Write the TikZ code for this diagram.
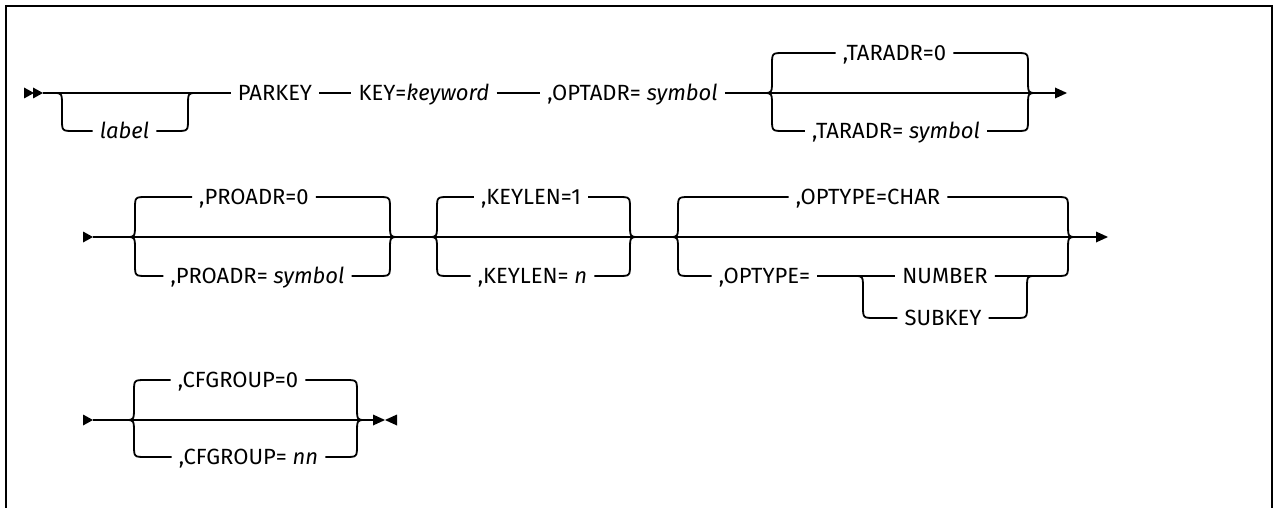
\documentclass[tikz,border=0pt]{standalone}
\usepackage{fontspec}
\setmainfont{Fira Sans}
% left half of a branch: from cusp (#1,#2) on main line y=#2 to branch level #3, ending at node #4
\newcommand{\rrleft}[4]{%
  \draw[rr] (#1,#2) .. controls ({#1+8},#2) .. ({#1+8},{#2+14*sign(#3-#2)})
    -- ({#1+8},{#3-12*sign(#3-#2)}) .. controls ({#1+8},#3) .. ({#1+20},#3) -- (#4.west);}
% right half: from node #1 at level #4 back to cusp (#2,#3)
\newcommand{\rrright}[4]{%
  \draw[rr] (#1.east) -- ({#2-20},#4) .. controls ({#2-8},#4) .. ({#2-8},{#4-12*sign(#4-#3)})
    -- ({#2-8},{#3+14*sign(#4-#3)}) .. controls ({#2-8},#3) .. (#2,#3);}
\newcommand{\rrbranch}[5]{\rrleft{#1}{#3}{#4}{#5}\rrright{#5}{#2}{#3}{#4}}
\begin{document}
\begin{tikzpicture}[x=1pt,y=-1pt,
  rr/.style={line width=1.8pt, line join=round},
  lbl/.style={inner xsep=7pt, inner ysep=0pt, text height=15.2pt, text depth=0pt,
    font=\fontsize{22}{26}\selectfont},
  tipfill/.style={fill=black}]
\useasboundingbox (0,0) rectangle (1273,508);
\draw[line width=2pt] (6,508) -- (6,6) -- (1272,6) -- (1272,508);

% ---------- row 1 ----------
\fill[tipfill] (24,87.5) -- (34,93) -- (24,98.5) -- cycle;
\fill[tipfill] (33,87.5) -- (43,93) -- (33,98.5) -- cycle;
\coordinate (r1s) at (43,93);
\node[lbl] (parkey) at (275,93) {PARKEY};
\node[lbl] (label) at (124.5,131) {\itshape label};
\draw[rr] (r1s) -- (parkey.west);
\rrbranch{54}{196}{93}{131}{label}
\node[lbl] (key) at (424,93) {KEY=\textit{keyword}};
\node[lbl] (optadr) at (632.5,93) {,OPTADR= \textit{symbol}};
\draw[rr] (parkey.east) -- (key.west);
\draw[rr] (key.east) -- (optadr.west);
\coordinate (r1e) at (1056,93);
\draw[rr] (optadr.east) -- (r1e);
\fill[tipfill] (1055,87.5) -- (1067,93) -- (1055,98.5) -- cycle;
\node[lbl] (tar0) at (894.5,53) {,TARADR=0};
\node[lbl] (tars) at (896,131) {,TARADR= \textit{symbol}};
\rrbranch{764}{1036}{93}{53}{tar0}
\rrbranch{764}{1036}{93}{131}{tars}

% ---------- row 2 ----------
\fill[tipfill] (83,231.5) -- (93,237) -- (83,242.5) -- cycle;
\coordinate (r2s) at (93,237);
\coordinate (r2e) at (1097,237);
\draw[rr] (r2s) -- (r2e);
\fill[tipfill] (1096,231.5) -- (1108,237) -- (1096,242.5) -- cycle;
\node[lbl] (pro0) at (254,197) {,PROADR=0};
\node[lbl] (pros) at (257.5,276) {,PROADR= \textit{symbol}};
\rrbranch{127}{398}{237}{197}{pro0}
\rrbranch{127}{398}{237}{276}{pros}
\node[lbl] (kl1) at (531,197) {,KEYLEN=1};
\node[lbl] (kln) at (532.5,276) {,KEYLEN= \textit{n}};
\rrbranch{429}{638}{237}{197}{kl1}
\rrbranch{429}{638}{237}{276}{kln}
\node[lbl] (char) at (868,197) {,OPTYPE=CHAR};
\rrbranch{670}{1076}{237}{197}{char}
\node[lbl] (opt) at (764.5,276) {,OPTYPE=};
\node[lbl] (num) at (945,276) {NUMBER};
\node[lbl] (sub) at (943,318) {SUBKEY};
\rrleft{670}{237}{276}{opt}
\draw[rr] (opt.east) -- (num.west);
\rrright{num}{1076}{237}{276}
\rrleft{855}{276}{318}{sub}
\rrright{sub}{1035}{276}{318}

% ---------- row 3 ----------
\fill[tipfill] (83,414.5) -- (93,420) -- (83,425.5) -- cycle;
\coordinate (r3s) at (93,420);
\coordinate (r3e) at (374,420);
\draw[rr] (r3s) -- (r3e);
\node[lbl] (cfg0) at (238,380) {,CFGROUP=0};
\node[lbl] (cfgn) at (248.5,457) {,CFGROUP= \textit{nn}};
\rrbranch{126}{365}{420}{380}{cfg0}
\rrbranch{126}{365}{420}{457}{cfgn}
\fill[tipfill] (373,414.5) -- (385,420) -- (373,425.5) -- cycle;
\fill[tipfill] (397,414.5) -- (385,420) -- (397,425.5) -- cycle;
\end{tikzpicture}
\end{document}
